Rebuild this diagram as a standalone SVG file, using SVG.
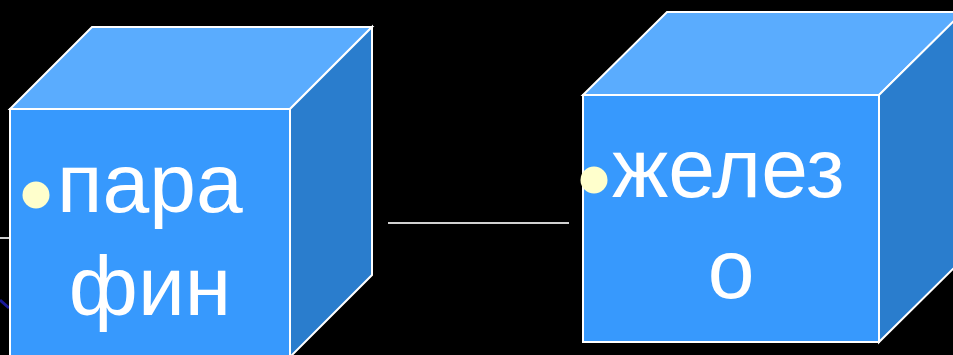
<svg xmlns="http://www.w3.org/2000/svg" width="953" height="355" viewBox="0 0 953 355">
<style>
.front{fill:#3799FD;stroke:#ffffff;stroke-width:2}
.top{fill:#5AACFE;stroke:#ffffff;stroke-width:2}
.side{fill:#2A7DCD;stroke:#ffffff;stroke-width:2}
.lbl{font-family:"Liberation Sans",Arial,sans-serif;font-size:84px;fill:#ffffff}
.bullet{fill:#FFFFCC}
.conn{stroke:#d0d0d0;stroke-width:2;fill:none}
</style>
<rect x="0" y="0" width="953" height="355" fill="#000000"/>
<g id="connectors">
<line class="conn" x1="0" y1="238" x2="10" y2="238"/>
<line x1="0" y1="300" x2="9" y2="308" stroke="#1a1a99" stroke-width="3"/>
<line class="conn" x1="388" y1="223" x2="569" y2="223"/>
</g>
<g id="cube-parafin">
<polygon class="top" points="10,109 92,27 372,27 290,109"/>
<polygon class="side" points="290,109 372,27 372,275 290,357"/>
<rect class="front" x="10" y="109" width="280" height="250"/>
<circle class="bullet" cx="36" cy="195" r="13.5"/>
<text class="lbl" x="57" y="212">пара</text>
<text class="lbl" x="150" y="315" text-anchor="middle">фин</text>
</g>
<g id="cube-zhelezo">
<polygon class="top" points="583,95 667,12 963,12 879,95"/>
<polygon class="side" points="879,95 963,12 963,259 879,342"/>
<rect class="front" x="583" y="95" width="296" height="247"/>
<circle class="bullet" cx="594" cy="180" r="13.5"/>
<text class="lbl" x="612" y="197">желез</text>
<text class="lbl" x="731" y="298" text-anchor="middle">о</text>
</g>
</svg>
